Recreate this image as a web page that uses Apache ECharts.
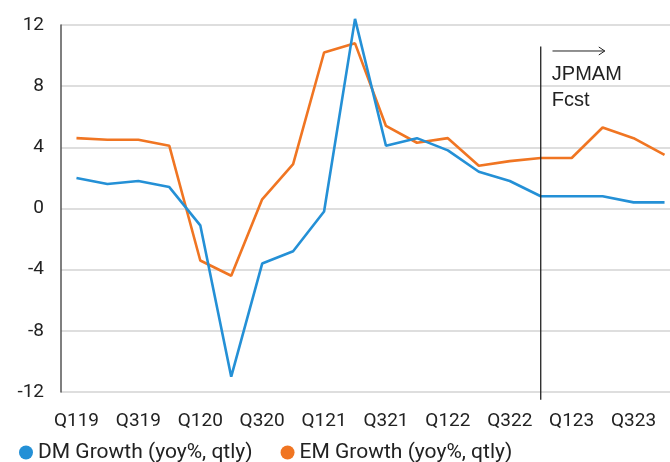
<!DOCTYPE html>
<html>
<head>
<meta charset="utf-8">
<script src="https://cdn.jsdelivr.net/npm/echarts@6/dist/echarts.min.js"></script>
<style>
  html, body { margin: 0; padding: 0; background: #fff; }
  #chart { width: 670px; height: 462px; }
</style>
</head>
<body>
<div id="chart"></div>
<script>
// Quarterly GDP growth, year over year (%)
const quarters = [
  'Q119', 'Q219', 'Q319', 'Q419',
  'Q120', 'Q220', 'Q320', 'Q420',
  'Q121', 'Q221', 'Q321', 'Q421',
  'Q122', 'Q222', 'Q322', 'Q422',
  'Q123', 'Q223', 'Q323', 'Q423'
];
const dmGrowth = [
  2.0, 1.6, 1.8, 1.4,
  -1.1, -11.0, -3.6, -2.8,
  -0.2, 12.4, 4.1, 4.6,
  3.8, 2.4, 1.8, 0.8,
  0.8, 0.8, 0.4, 0.4
];
const emGrowth = [
  4.6, 4.5, 4.5, 4.1,
  -3.4, -4.4, 0.6, 2.9,
  10.2, 10.8, 5.4, 4.3,
  4.6, 2.8, 3.1, 3.3,
  3.3, 5.3, 4.6, 3.5
];
const yTicks = { min: -12, max: 12, step: 4 };
const forecastStart = 'Q422';
const forecastLabel = 'JPMAM\nFcst';

const dmColor = '#2490d6';
const emColor = '#f07522';
const labelFont = 'Roboto';

const chart = echarts.init(document.getElementById('chart'), null, { renderer: 'canvas' });

chart.setOption({
  animation: false,
  backgroundColor: '#ffffff',
  // the plot runs a little past the right edge of the canvas
  grid: { left: 61, width: 619, top: 25, bottom: 70, containLabel: false, outerBoundsMode: 'none' },
  legend: {
    left: 14,
    top: 437,
    icon: 'circle',
    itemWidth: 14,
    itemHeight: 14,
    itemGap: 28,
    textStyle: { fontFamily: labelFont, fontSize: 21, color: '#222' },
    data: ['DM Growth (yoy%, qtly)', 'EM Growth (yoy%, qtly)']
  },
  xAxis: {
    type: 'category',
    data: quarters,
    boundaryGap: true,
    axisLine: { show: false },
    axisTick: { show: false },
    axisLabel: {
      interval: 1,
      margin: 20,
      fontFamily: labelFont,
      fontSize: 19,
      color: '#222'
    }
  },
  yAxis: {
    type: 'value',
    min: yTicks.min,
    max: yTicks.max,
    interval: yTicks.step,
    axisLine: { show: true, lineStyle: { color: '#555', width: 1.5 } },
    axisTick: { show: false },
    splitLine: { lineStyle: { color: '#d3d3d3', width: 1.5 } },
    axisLabel: {
      margin: 17,
      fontFamily: labelFont,
      fontSize: 19,
      color: '#222'
    }
  },
  series: [
    {
      name: 'DM Growth (yoy%, qtly)',
      type: 'line',
      data: dmGrowth,
      color: dmColor,
      showSymbol: false,
      clip: false,
      lineStyle: { width: 2.6, color: dmColor },
      z: 3
    },
    {
      name: 'EM Growth (yoy%, qtly)',
      type: 'line',
      data: emGrowth,
      color: emColor,
      showSymbol: false,
      clip: false,
      lineStyle: { width: 2.6, color: emColor },
      z: 2
    }
  ]
});

// Forecast divider, arrow and caption, placed from the axis scales
function drawForecastMarker() {
  const toPx = (q, v) => chart.convertToPixel({ xAxisIndex: 0, yAxisIndex: 0 }, [q, v]);
  const start = toPx(forecastStart, 0);
  const next = toPx(quarters[quarters.indexOf(forecastStart) + 1], 0);
  const band = next[0] - start[0];
  const x = start[0];
  const yTop = toPx(forecastStart, 10.6)[1];
  const yBottom = toPx(forecastStart, -12.5)[1];
  const yArrow = toPx(forecastStart, 10.3)[1];
  const arrowX0 = x + band * 0.38;
  const arrowX1 = x + band * 2.07;
  const yText = toPx(forecastStart, 7.9)[1];

  chart.setOption({
    graphic: [
      {
        type: 'line',
        shape: { x1: x, y1: yTop, x2: x, y2: yBottom },
        style: { stroke: '#222', lineWidth: 1.3 },
        z: 10
      },
      {
        type: 'line',
        shape: { x1: arrowX0, y1: yArrow, x2: arrowX1, y2: yArrow },
        style: { stroke: '#222', lineWidth: 1 },
        z: 10
      },
      {
        type: 'polyline',
        shape: { points: [[arrowX1 - 6, yArrow - 4], [arrowX1, yArrow], [arrowX1 - 6, yArrow + 4]] },
        style: { stroke: '#222', lineWidth: 1, fill: null },
        z: 10
      },
      {
        type: 'text',
        x: x + band * 0.36,
        y: yText,
        style: {
          text: forecastLabel,
          fontFamily: 'Liberation Sans',
          fontSize: 20,
          lineHeight: 26,
          fill: '#222',
          align: 'left',
          verticalAlign: 'middle'
        },
        z: 10
      }
    ]
  });
}
drawForecastMarker();
</script>
</body>
</html>
